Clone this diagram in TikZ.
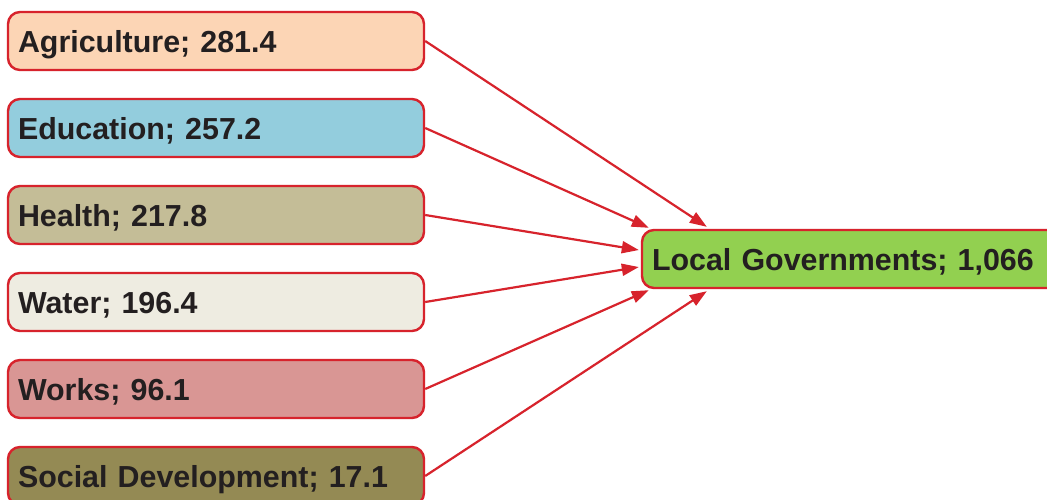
\documentclass[tikz,border=0pt]{standalone}
\usepackage{fontspec}
\setmainfont{Liberation Sans}
\usetikzlibrary{arrows.meta,calc}
\definecolor{bordred}{HTML}{D7232C}
\definecolor{txt}{HTML}{231F20}
\definecolor{cagri}{HTML}{FCD5B5}
\definecolor{cedu}{HTML}{93CDDD}
\definecolor{chealth}{HTML}{C4BD97}
\definecolor{cwater}{HTML}{EEECE1}
\definecolor{cworks}{HTML}{D99694}
\definecolor{csocial}{HTML}{948A54}
\definecolor{clg}{HTML}{92D050}
\tikzset{
  box/.style={draw=bordred, line width=2.4pt, rounded corners=12pt,
    minimum height=58pt, text width=396pt, inner xsep=10pt, inner ysep=0pt,
    text height=22pt, text depth=0pt, align=left,
    text=txt, font=\fontsize{30.4}{34}\selectfont\bfseries},
  lgbox/.style={box, text width=398pt},
  flow/.style={draw=bordred, line width=2.2pt, -{Triangle[length=17pt,width=12pt]}}
}
\begin{document}
\begin{tikzpicture}[x=1pt,y=1pt]
\clip (0,0) rectangle (1047,-499);
\fill[white] (0,0) rectangle (1047,-499);
\node[box, fill=cagri]   (agri)   at (216,-41)  {Agriculture; 281.4};
\node[box, fill=cedu]    (edu)    at (216,-128) {Education; 257.2};
\node[box, fill=chealth] (health) at (216,-215) {Health; 217.8};
\node[box, fill=cwater]  (water)  at (216,-302) {Water; 196.4};
\node[box, fill=cworks]  (works)  at (216,-389) {Works; 96.1};
\node[box, fill=csocial] (social) at (216,-476) {Social Development; 17.1};
\node[lgbox, fill=clg]   (lg)     at (851,-259) {Local Governments; 1,066};
\draw[flow] (agri.east)   -- ($(lg.north west)+(66,2)$);
\draw[flow] (edu.east)    -- ($(lg.north west)+(8,1)$);
\draw[flow] (health.east) -- ($(lg.west)+(-2,9)$);
\draw[flow] (water.east)  -- ($(lg.west)+(-2,-8)$);
\draw[flow] (works.east)  -- ($(lg.south west)+(8,-1)$);
\draw[flow] (social.east) -- ($(lg.south west)+(66,-2)$);
\end{tikzpicture}
\end{document}
